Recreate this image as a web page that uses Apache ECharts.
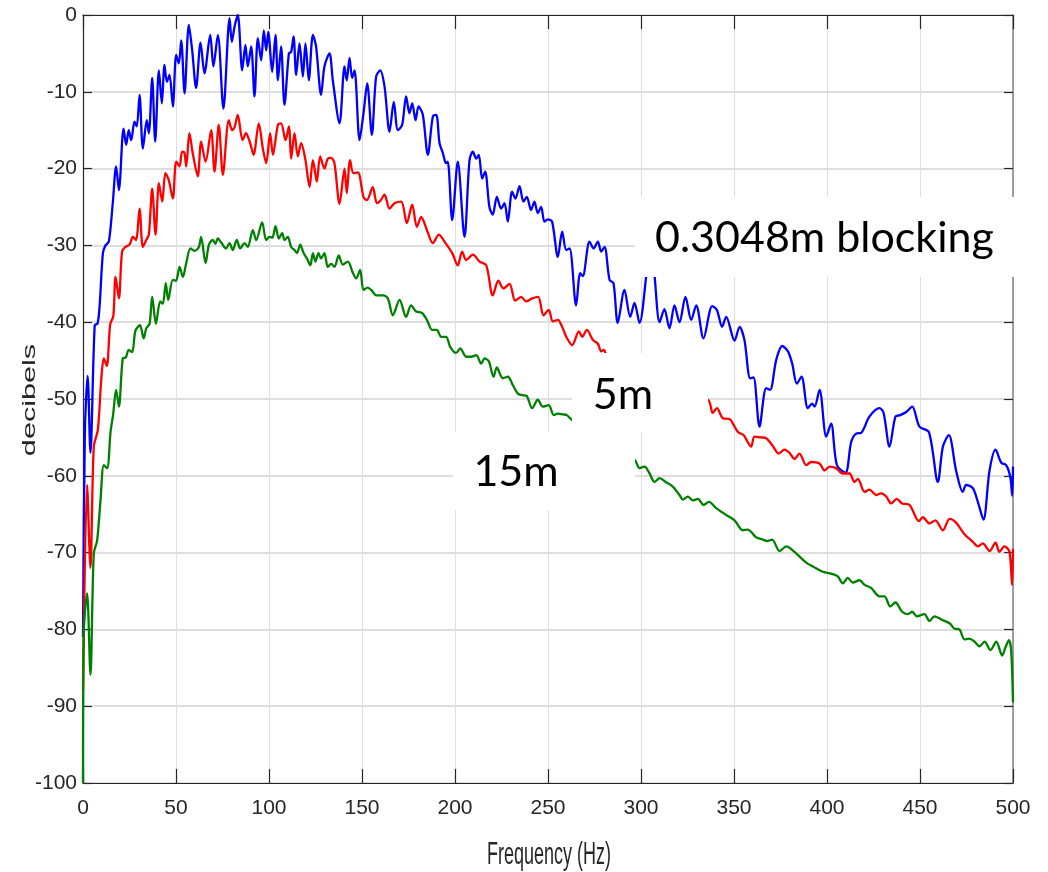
<!DOCTYPE html>
<html>
<head>
<meta charset="utf-8">
<title>Spectrum vs blocking distance</title>
<script src="https://cdn.jsdelivr.net/npm/echarts@6/dist/echarts.min.js"></script>
<style>
  html, body { margin: 0; padding: 0; background: #ffffff; }
  #chart { width: 1048px; height: 872px; }
</style>
</head>
<body>
<div id="chart"></div>
<script>
// Frequency axis ticks (Hz) and level axis ticks (dB)
const freqTicks = [0, 50, 100, 150, 200, 250, 300, 350, 400, 450, 500];
const dbTicks = [-100, -90, -80, -70, -60, -50, -40, -30, -20, -10, 0];

// 0.3048 m blocking (blue)
const blueFreq = [0, 1.0, 2.5, 4.0, 6.3, 7.8, 8.9, 10.7, 12.1, 13.9, 16.0, 17.8, 19.3, 21.8, 23.2, 24.6, 25.9, 27.7, 28.9, 30.4, 32.2, 34.3, 35.4, 37.2, 38.8, 40.8, 42.4, 43.8, 45.1, 46.5, 48.3, 50.1, 51.5, 52.8, 54.6, 56.9, 58.7, 60.8, 63.2, 65.3, 68.4, 70.1, 72.5, 75.5, 78.8, 80.0, 81.5, 83.2, 85.6, 87.3, 88.6, 90.4, 92.2, 94.0, 95.8, 97.2, 98.5, 99.6, 101.7, 103.5, 104.8, 106.5, 108.3, 110.7, 111.9, 113.2, 114.6, 116.4, 118.2, 119.6, 121.4, 123.6, 125.3, 128.0, 129.8, 132.5, 134.3, 137.9, 140.6, 141.8, 143.3, 144.7, 146.0, 148.7, 150.8, 152.8, 155.3, 157.6, 159.8, 162.1, 164.8, 167.1, 169.3, 171.6, 173.7, 175.5, 177.0, 178.8, 180.4, 182.7, 185.4, 188.1, 189.9, 191.7, 193.5, 195.2, 196.1, 198.5, 201.5, 205.1, 207.8, 209.6, 211.4, 212.8, 214.6, 216.2, 218.5, 220.3, 222.5, 224.8, 226.6, 228.4, 230.7, 232.5, 234.7, 236.8, 238.6, 240.9, 242.7, 244.5, 246.3, 248.1, 249.9, 252.2, 255.3, 257.6, 259.8, 261.6, 265.1, 267.3, 268.7, 272.3, 274.5, 276.8, 278.6, 280.4, 283.1, 285.2, 287.5, 291.1, 294.2, 296.5, 299.2, 302.8, 305.0, 307.3, 310.0, 312.6, 315.3, 318.0, 320.7, 323.9, 327.0, 329.7, 333.6, 338.3, 340.8, 343.6, 345.8, 350.3, 353.0, 355.6, 358.7, 360.5, 363.7, 367.3, 369.4, 372.7, 375.9, 379.0, 381.3, 383.8, 386.3, 389.7, 392.0, 393.3, 396.0, 399.6, 402.2, 405.3, 409.9, 413.0, 415.7, 418.4, 422.8, 428.2, 430.4, 433.6, 436.8, 439.3, 442.6, 445.8, 449.7, 454.8, 459.6, 462.3, 465.5, 469.4, 473.0, 474.8, 478.4, 481.1, 484.1, 487.4, 490.6, 493.7, 496.3, 498.5, 499.6, 500];
const blueDb = [-81, -54.5, -47, -57, -40.4, -40.2, -38, -31, -30, -29.5, -24.5, -19.7, -22.8, -14.8, -16.9, -15, -16.3, -13.9, -14.5, -10.4, -17.4, -13.7, -15.4, -8.2, -16.5, -7.2, -11.5, -6.5, -8.7, -7.8, -11.9, -5.2, -6.3, -3.3, -10.2, -1.3, -4.6, -9.5, -3.6, -7.6, -2.6, -6.7, -2.6, -12.2, -0.4, -3.5, -1.5, 0, -7.2, -3.9, -6.7, -4.1, -10.6, -3.0, -5.9, -2.0, -4.6, -2.2, -7.4, -2.6, -8.5, -4.1, -11.7, -5.0, -4.8, -2.8, -7.8, -3.7, -8.0, -3.7, -8.5, -2.6, -4.1, -10.4, -6.7, -5.0, -8.5, -14.1, -6.7, -8.5, -5.6, -8.2, -7.2, -16.3, -12.8, -8.9, -15.6, -8.0, -7.2, -9.3, -15.2, -11.3, -15.0, -14.3, -10.6, -12.8, -11.5, -13.7, -11.9, -13.0, -18.2, -13.2, -13.0, -16.7, -18.0, -19.3, -19.1, -26.7, -19.1, -28.9, -18.9, -17.8, -18.7, -18.2, -21.3, -20.4, -25.0, -26.0, -23.7, -25.2, -24.5, -26.9, -23.0, -23.9, -22.3, -24.3, -23.7, -25.4, -24.3, -25.8, -25.0, -26.9, -26.6, -26.9, -31.5, -28.2, -30.6, -30.4, -37.8, -33.6, -34.0, -29.5, -30.4, -29.5, -30.8, -30.2, -34.5, -34.9, -40.1, -35.8, -39.3, -37.5, -40.1, -34, -29, -34, -40, -38.3, -40.8, -37.8, -40.0, -36.7, -39.7, -37.8, -42.1, -37.9, -38.4, -40.6, -39.3, -42.4, -40.6, -42.3, -47.3, -47.2, -53.6, -48.6, -48.8, -44.9, -43.1, -43.8, -45.4, -48.0, -47.1, -51.2, -50.6, -51.0, -48.8, -54.9, -53.2, -58.6, -59.6, -55.6, -54.5, -54.4, -52.3, -51.2, -51.8, -56.2, -52.3, -52.1, -51.7, -51.0, -53.6, -54.3, -60.8, -56.2, -54.7, -59.3, -62.1, -61.2, -61.6, -63.4, -65.7, -59.3, -56.6, -58.3, -58.6, -60.1, -62.6, -58.8];

// 5 m (red)
const redFreq = [0, 2.2, 4.0, 5.8, 8.0, 9.8, 11.2, 12.8, 14.6, 16.3, 17.5, 19.3, 21.0, 22.8, 25.0, 26.8, 28.5, 30.4, 32.2, 34.0, 35.4, 37.2, 39.0, 40.8, 42.6, 44.3, 46.1, 48.3, 50.1, 51.9, 53.3, 54.5, 55.5, 57.2, 59.0, 61.7, 63.5, 65.9, 68.9, 70.7, 73.0, 75.2, 78.4, 80.2, 81.5, 83.2, 85.8, 87.6, 89.9, 91.7, 94.5, 96.7, 98.5, 100.6, 102.1, 104.8, 106.5, 108.9, 110.7, 111.9, 113.7, 115.5, 117.3, 119.6, 121.8, 123.6, 125.7, 127.5, 129.8, 131.6, 133.4, 135.2, 137.9, 140.6, 141.8, 143.6, 145.4, 147.8, 150.8, 152.6, 155.8, 158.0, 159.8, 162.1, 164.8, 167.5, 171.1, 174.1, 177.0, 179.5, 181.8, 184.9, 188.1, 191.3, 194.9, 198.5, 201.5, 203.8, 206.0, 209.6, 213.2, 216.8, 220.3, 223.3, 226.0, 229.3, 232.4, 235.6, 238.3, 241.5, 244.7, 247.6, 250.4, 252.6, 255.3, 257.6, 259.8, 263.0, 266.6, 268.4, 270.9, 274.1, 276.8, 278.6, 280.0, 282.0, 335.9, 338.6, 340.8, 344.0, 347.6, 349.4, 352.1, 355.1, 359.2, 361.0, 364.6, 367.3, 370.5, 374.1, 377.1, 379.8, 382.5, 385.2, 388.8, 391.5, 396.0, 398.7, 401.3, 404.9, 408.5, 412.1, 414.8, 416.6, 420.2, 422.8, 426.4, 429.1, 431.8, 434.5, 437.5, 440.4, 444.4, 449.4, 451.5, 455.1, 458.3, 462.3, 465.9, 469.4, 473.9, 478.4, 481.1, 483.8, 487.4, 490.6, 492.7, 495.4, 498.1, 499.5, 500];
const redDb = [-88, -61.2, -72.0, -56.2, -54.0, -47.5, -44.7, -45.7, -40.3, -39.2, -34.1, -36.9, -30.8, -30.2, -29.9, -28.9, -29.3, -25.2, -30.2, -29.3, -28.6, -22.6, -28.6, -21.9, -24.3, -20.6, -21.5, -23.9, -19.1, -19.7, -17.8, -17.9, -19.7, -15.4, -18.0, -21.0, -16.5, -19.1, -15.0, -20.4, -14.3, -20.8, -13.7, -15.0, -14.6, -13.0, -16.3, -15.4, -16.7, -18.2, -14.1, -17.4, -19.3, -15.4, -18.2, -14.3, -14.1, -16.3, -14.5, -18.7, -15.4, -18.4, -16.7, -18.9, -22.4, -18.9, -21.7, -18.4, -20.0, -18.7, -18.6, -19.3, -24.6, -20.0, -23.2, -18.9, -20.6, -20.5, -23.7, -24.1, -22.4, -24.5, -24.2, -23.4, -25.2, -24.5, -24.3, -27.1, -24.7, -27.6, -26.3, -28.0, -29.7, -28.6, -29.7, -31.0, -32.6, -30.8, -31.9, -31.2, -32.1, -32.6, -36.5, -34.6, -35.6, -35.0, -37.2, -36.7, -37.3, -36.9, -36.7, -39.1, -38.4, -39.9, -39.7, -40.6, -41.9, -43.0, -41.2, -41.9, -41.0, -42.3, -42.8, -43.8, -43.6, -44.5, -50.1, -51.8, -51.2, -52.5, -52.6, -53.2, -54.3, -54.7, -56.2, -54.9, -55.0, -55.1, -56.0, -57.1, -56.6, -57.0, -57.8, -57.1, -58.6, -58.2, -58.4, -59.3, -58.8, -59.0, -59.7, -59.7, -60.8, -60.4, -62.1, -61.8, -62.5, -62.3, -62.7, -63.6, -63.0, -63.6, -63.8, -65.9, -65.4, -66.2, -65.8, -67.1, -65.6, -66.1, -67.6, -68.6, -69.2, -68.8, -69.8, -68.7, -69.9, -69.2, -69.9, -74.2, -69.5];

// 15 m (green)
const greenFreq = [0, 0.4, 2.2, 4.0, 5.8, 7.6, 9.4, 11.2, 13.0, 14.8, 16.2, 17.8, 19.3, 21.4, 23.0, 24.6, 26.4, 28.2, 30.6, 32.6, 34.0, 35.8, 37.2, 39.2, 41.5, 42.9, 44.5, 45.8, 48.3, 50.0, 51.9, 53.7, 55.5, 57.8, 60.0, 62.3, 63.5, 65.9, 67.7, 69.8, 71.2, 72.5, 74.5, 76.9, 78.8, 80.5, 82.7, 84.5, 86.8, 88.6, 91.3, 93.1, 96.3, 98.5, 100.3, 101.8, 103.5, 105.3, 107.1, 108.3, 110.1, 111.9, 113.7, 115.0, 116.8, 118.6, 120.4, 122.2, 123.6, 125.0, 126.6, 128.0, 129.8, 131.6, 133.4, 135.2, 137.5, 139.7, 142.4, 145.1, 146.9, 149.0, 150.8, 153.1, 155.3, 157.6, 161.2, 163.9, 166.6, 170.2, 173.7, 176.4, 179.1, 182.3, 184.9, 187.7, 190.2, 192.6, 195.2, 197.4, 200.6, 202.8, 206.0, 208.7, 211.4, 214.1, 215.9, 218.2, 220.7, 222.5, 225.7, 228.4, 231.1, 233.8, 236.1, 238.5, 241.5, 244.5, 247.2, 250.4, 253.1, 255.3, 258.0, 260.1, 262.8, 296.5, 299.2, 301.9, 304.6, 307.3, 310.0, 313.2, 317.1, 320.7, 322.5, 325.2, 327.9, 330.6, 333.6, 336.5, 340.4, 345.8, 350.3, 354.7, 357.4, 361.9, 365.5, 367.7, 370.5, 374.5, 378.1, 382.5, 388.8, 392.4, 397.8, 403.1, 405.8, 408.5, 411.2, 413.9, 417.5, 420.2, 423.7, 428.2, 430.9, 434.0, 436.8, 440.4, 443.5, 445.8, 448.3, 452.4, 455.1, 457.8, 462.3, 465.9, 468.5, 471.2, 473.9, 476.6, 479.3, 482.0, 484.7, 487.9, 491.0, 494.2, 496.0, 497.8, 499.0, 500];
const greenDb = [-100, -80.5, -75.3, -85.9, -70.1, -68.4, -63.2, -58.6, -59.0, -54.3, -52.0, -48.8, -51.0, -44.7, -44.6, -43.6, -43.9, -41.1, -40.4, -42.1, -40.8, -40.2, -36.7, -40.2, -37.3, -37.6, -34.9, -37.1, -34.5, -34.6, -32.8, -34.1, -32.3, -30.4, -30.7, -30.2, -28.9, -32.3, -29.9, -29.3, -29.8, -29.1, -29.7, -30.4, -29.7, -30.6, -29.3, -30.4, -29.7, -30.2, -28.0, -29.3, -27.0, -29.3, -28.9, -29.0, -27.5, -29.1, -28.4, -29.3, -28.9, -30.2, -30.6, -31.0, -29.9, -31.0, -31.7, -32.6, -31.0, -32.1, -31.0, -31.7, -31.0, -32.8, -32.4, -32.8, -31.3, -32.5, -32.1, -33.6, -34.3, -33.2, -35.8, -35.5, -35.9, -36.5, -36.5, -36.9, -39.1, -37.1, -39.3, -37.8, -38.6, -38.8, -39.7, -41.0, -41.0, -41.9, -41.9, -43.2, -44.0, -43.4, -44.5, -44.5, -44.3, -45.4, -44.7, -45.1, -47.1, -45.9, -47.3, -47.1, -48.2, -49.3, -49.5, -49.6, -51.2, -50.1, -51.0, -50.8, -52.1, -51.9, -52.0, -52.1, -52.7, -57.9, -59.0, -58.8, -59.7, -60.8, -60.3, -60.8, -61.4, -62.5, -63.1, -62.7, -63.2, -63.0, -63.8, -63.4, -64.2, -65.1, -65.8, -67.1, -67.0, -68.0, -68.3, -68.5, -68.3, -69.8, -69.2, -69.9, -71.3, -71.8, -72.5, -72.8, -73.1, -74.0, -73.3, -73.9, -73.6, -74.2, -74.6, -75.7, -75.7, -77.0, -76.5, -77.7, -78.0, -77.7, -78.3, -78.0, -78.9, -78.3, -78.8, -79.2, -79.9, -80.0, -81.3, -81.2, -81.6, -82.2, -81.6, -82.7, -81.6, -83.4, -82.3, -81.4, -82.7, -89.5];

// Curve labels
const curveLabels = ['0.3048m blocking', '5m', '15m'];

const pairs = (fs, ds) => fs.map((f, i) => [f, ds[i]]);

const tickFont = "'Liberation Sans', Arial, sans-serif";
const labelFont = "Lato, 'Open Sans', 'Noto Sans', sans-serif";
const ink = '#262626';
const gridColor = '#dedede';

const chart = echarts.init(document.getElementById('chart'), null, { renderer: 'canvas' });

const lineSeries = (name, fs, ds, color) => ({
  name: name,
  type: 'line',
  xAxisIndex: 0,
  yAxisIndex: 0,
  data: pairs(fs, ds),
  showSymbol: false,
  smooth: 0.3,
  lineStyle: { color: color, width: 2.3 },
  itemStyle: { color: color },
  animation: false,
  z: 3
});

// White label plates drawn over the curves
const plate = (x, y, w, h, text, tx, ty, align) => ({
  type: 'group',
  z: 100,
  children: [
    { type: 'rect', shape: { x: x, y: y, width: w, height: h }, style: { fill: '#ffffff' }, z: 100 },
    { type: 'text', x: tx, y: ty, z: 101,
      style: { text: text, font: '43px ' + labelFont, fill: '#000000', textAlign: align, textVerticalAlign: 'middle' } }
  ]
});

chart.setOption({
  backgroundColor: '#ffffff',
  animation: false,
  grid: { left: 83, right: 35, top: 15, bottom: 89, containLabel: false },
  xAxis: [
    {
      type: 'value', position: 'bottom',
      min: freqTicks[0], max: freqTicks[freqTicks.length - 1], interval: 50,
      axisLine: { show: true, onZero: false, lineStyle: { color: ink, width: 1.2 } },
      axisTick: { show: true, inside: true, length: 14, lineStyle: { color: ink, width: 1.2 } },
      axisLabel: { show: true, margin: 15, fontSize: 21, fontFamily: tickFont, color: ink },
      splitLine: { show: true, lineStyle: { color: gridColor, width: 1 } }
    },
    {
      type: 'value', position: 'top',
      min: freqTicks[0], max: freqTicks[freqTicks.length - 1], interval: 50,
      axisLine: { show: true, onZero: false, lineStyle: { color: ink, width: 1.2 } },
      axisTick: { show: true, inside: true, length: 14, lineStyle: { color: ink, width: 1.2 } },
      axisLabel: { show: false },
      splitLine: { show: false }
    }
  ],
  yAxis: [
    {
      type: 'value', position: 'left',
      min: dbTicks[0], max: dbTicks[dbTicks.length - 1], interval: 10,
      axisLine: { show: true, onZero: false, lineStyle: { color: ink, width: 1.2 } },
      axisTick: { show: true, inside: true, length: 9, lineStyle: { color: ink, width: 1.2 } },
      axisLabel: { show: true, margin: 6, fontSize: 21, fontFamily: tickFont, color: ink },
      splitLine: { show: true, lineStyle: { color: gridColor, width: 2 } }
    },
    {
      type: 'value', position: 'right',
      min: dbTicks[0], max: dbTicks[dbTicks.length - 1], interval: 10,
      axisLine: { show: true, onZero: false, lineStyle: { color: '#808080', width: 1.5 } },
      axisTick: { show: true, inside: true, length: 9, lineStyle: { color: ink, width: 1.2 } },
      axisLabel: { show: false },
      splitLine: { show: false }
    }
  ],
  series: [
    lineSeries('0.3048m blocking', blueFreq, blueDb, '#0000ff'),
    lineSeries('5m', redFreq, redDb, '#ff0000'),
    lineSeries('15m', greenFreq, greenDb, '#008000')
  ],
  graphic: [
    // axis titles (condensed look: stretched along the reading direction)
    { type: 'text', x: 30, y: 400, rotation: Math.PI / 2, scaleX: 1.7, z: 50,
      style: { text: 'decibels', font: '18px "Liberation Sans", Arial, sans-serif', fill: ink, textAlign: 'center', textVerticalAlign: 'middle' } },
    { type: 'text', x: 549, y: 855, scaleY: 1.75, z: 50,
      style: { text: 'Frequency (Hz)', font: '18px "Liberation Sans", Arial, sans-serif', fill: ink, textAlign: 'center', textVerticalAlign: 'middle' } },
    plate(635, 197, 392, 80, curveLabels[0], 655, 238, 'left'),
    plate(572, 353, 136, 79, curveLabels[1], 623, 395, 'center'),
    plate(453, 432, 182, 78, curveLabels[2], 516, 472, 'center')
  ]
});
</script>
</body>
</html>
